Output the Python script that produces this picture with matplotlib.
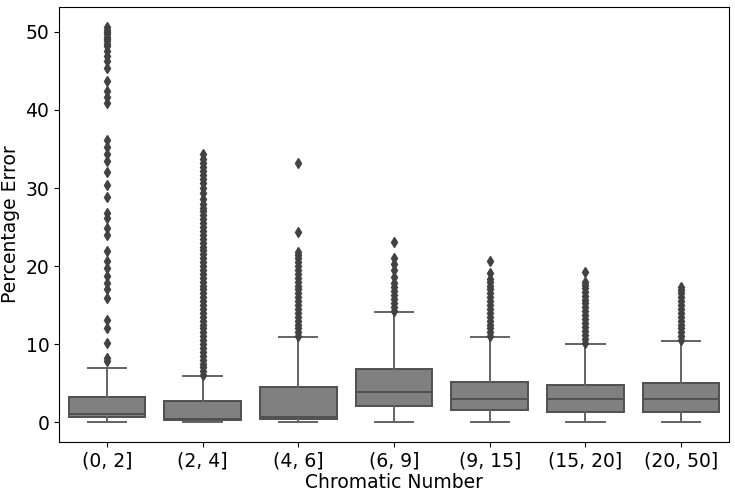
import numpy as np
import matplotlib
matplotlib.use("Agg")
import matplotlib.pyplot as plt

# bins of chromatic number
labels = ['(0, 2]', '(2, 4]', '(4, 6]', '(6, 9]', '(9, 15]', '(15, 20]', '(20, 50]']

# box statistics
whislo = [0.0, 0.0, 0.0, 0.0, 0.0, 0.0, 0.0]
q1 = [0.64, 0.30, 0.40, 2.00, 1.49, 1.32, 1.32]
med = [1.06, 0.40, 0.62, 3.90, 3.00, 2.90, 2.90]
q3 = [3.25, 2.64, 4.53, 6.83, 5.17, 4.78, 5.04]
whishi = [6.90, 5.94, 10.85, 14.14, 10.85, 10.04, 10.33]

# outliers
fliers_0_2 = [7.8, 8.2, 10.1, 12.1, 13.1, 15.9, 17.0, 17.8, 18.7, 19.7, 20.6, 21.9,
              24.0, 24.9, 26.2, 26.8, 28.9, 30.4, 32.1, 33.4, 34.3, 35.3, 36.2,
              40.9, 41.7, 42.4, 43.7, 45.4, 46.3, 46.9, 47.5, 48.2, 48.5, 48.8,
              49.1, 49.4, 49.7, 50.0, 50.3, 50.6]
fliers_2_4 = [6.0, 6.5, 7.0, 7.5, 8.0, 8.5, 9.0, 9.5, 10.0, 10.5, 11.0, 11.5, 12.0,
              12.5, 13.0, 13.5, 14.0, 14.5, 15.0, 15.5, 16.0, 16.5, 17.0, 17.5,
              18.0, 18.5, 19.0, 19.5, 20.0, 20.5, 21.0, 21.5, 22.0, 22.5, 23.0,
              23.5, 24.0, 24.5, 25.0, 25.5, 26.0, 26.5, 27.0, 27.5, 28.0, 28.6,
              29.3, 30.0, 30.7, 31.2, 31.7, 32.2, 32.7, 33.2, 33.7, 34.3]
fliers_4_6 = [11.0, 11.5, 12.0, 12.5, 13.0, 13.5, 14.0, 14.5, 15.0, 15.5, 16.0,
              16.5, 17.0, 17.5, 18.0, 18.5, 19.0, 19.5, 20.0, 20.5, 21.0, 21.4,
              21.8, 24.3, 33.2]
fliers_6_9 = [14.3, 14.8, 15.3, 15.8, 16.3, 16.8, 17.3, 17.8, 18.6, 19.5, 20.3,
              21.0, 23.1]
fliers_9_15 = [11.0, 11.5, 12.0, 12.5, 13.0, 13.5, 14.0, 14.5, 15.0, 15.5, 16.0,
               16.5, 17.0, 17.5, 18.0, 18.3, 19.1, 20.6]
fliers_15_20 = [10.2, 10.7, 11.2, 11.7, 12.2, 12.7, 13.2, 13.7, 14.2, 14.7, 15.2,
                15.7, 16.2, 16.7, 17.2, 17.6, 18.0, 19.2]
fliers_20_50 = [10.5, 11.0, 11.5, 12.0, 12.5, 13.0, 13.5, 14.0, 14.5, 15.0, 15.5,
                16.0, 16.5, 16.9, 17.3]
fliers = [fliers_0_2, fliers_2_4, fliers_4_6, fliers_6_9, fliers_9_15, fliers_15_20, fliers_20_50]

stats = []
for i in range(len(labels)):
    stats.append(dict(label=labels[i], whislo=whislo[i], q1=q1[i], med=med[i],
                      q3=q3[i], whishi=whishi[i], fliers=fliers[i]))

fig = plt.figure(figsize=(7.35, 4.96), dpi=100)
ax = fig.add_axes([0.0803, 0.1089, 0.9115, 0.877])

line_c = '#505050'
ax.bxp(stats, positions=np.arange(len(labels)), widths=0.8, patch_artist=True,
       boxprops=dict(facecolor='#808080', edgecolor=line_c, linewidth=1.4),
       medianprops=dict(color=line_c, linewidth=1.4),
       whiskerprops=dict(color='#636363', linewidth=1.4),
       capprops=dict(color='#636363', linewidth=1.4),
       flierprops=dict(marker='d', markerfacecolor='#424242', markeredgecolor='#424242',
                       markersize=5.5, linestyle='none'))

ax.set_xlim(-0.5, len(labels) - 0.5)
ax.set_ylim(-2.55, 53.2)
ax.set_yticks([0, 10, 20, 30, 40, 50])
ax.set_xticks(np.arange(len(labels)))
ax.set_xticklabels(labels)
ax.tick_params(labelsize=13.5)
ax.set_xlabel('Chromatic Number', fontsize=13.5, labelpad=2)
ax.set_ylabel('Percentage Error', fontsize=13.5, labelpad=4)

fig.savefig('out.png', dpi=100)
